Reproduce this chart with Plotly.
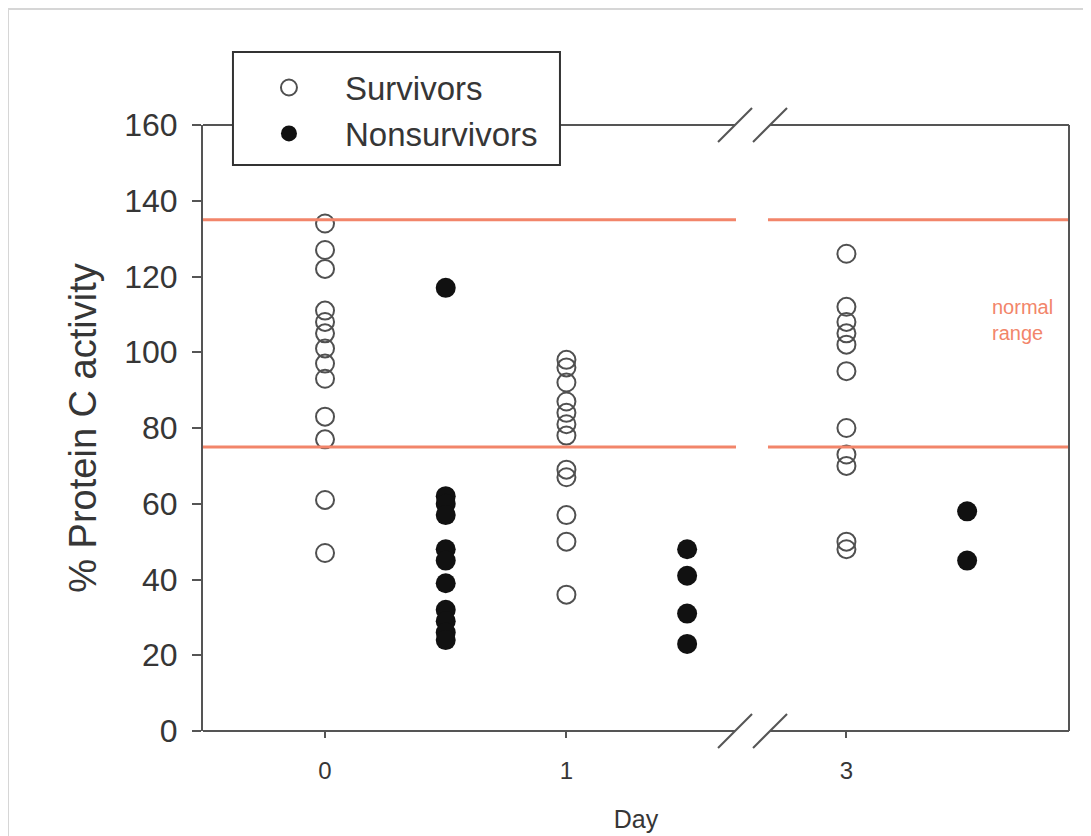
import plotly.graph_objects as go

# ---------------- data ----------------
day_labels = ["0", "1", "3"]
survivors_day0 = [134, 127, 122, 111, 108, 105, 101, 97, 93, 83, 77, 61, 47]
survivors_day1 = [98, 96, 92, 87, 84, 81, 78, 69, 67, 57, 50, 36]
survivors_day3 = [126, 112, 108, 105, 102, 95, 80, 73, 70, 50, 48]
nonsurvivors_day0 = [117, 62, 60, 57, 48, 45, 39, 32, 29, 26, 24]
nonsurvivors_day1 = [48, 41, 31, 23]
nonsurvivors_day3 = [58, 45]
normal_low = 75
normal_high = 135

# ---------------- layout helpers (axis units) ----------------
group_pos = [0.0, 2.0, 4.32]      # x position of each day's survivors column
nonsurv_offset = 1.0              # nonsurvivors drawn to the right of survivors
break_left, break_right = 3.397, 3.687
x_range = [-1.011, 6.164]
y_range = [0, 160]


def xpaper(u):
    return (u - x_range[0]) / (x_range[1] - x_range[0])


FONT = "Liberation Sans, Arial, sans-serif"
AX = "#555555"
TXT = "#363636"
ORANGE = "#f2856a"

surv = [survivors_day0, survivors_day1, survivors_day3]
nons = [nonsurvivors_day0, nonsurvivors_day1, nonsurvivors_day3]

sx, sy, nx, ny = [], [], [], []
for i, vals in enumerate(surv):
    sx += [group_pos[i]] * len(vals)
    sy += vals
for i, vals in enumerate(nons):
    nx += [group_pos[i] + nonsurv_offset] * len(vals)
    ny += vals

fig = go.Figure()
fig.add_trace(go.Scatter(
    x=sx, y=sy, mode="markers", name="Survivors",
    marker=dict(symbol="circle-open", size=18, color="#505050",
                line=dict(width=2, color="#505050")),
    cliponaxis=False,
))
fig.add_trace(go.Scatter(
    x=nx, y=ny, mode="markers", name="Nonsurvivors",
    marker=dict(symbol="circle", size=20, color="#111111"),
    cliponaxis=False,
))

bl, br = xpaper(break_left), xpaper(break_right)
shapes = []
# normal range lines (broken at the axis break)
for yv in (normal_low, normal_high):
    shapes.append(dict(type="line", xref="paper", yref="y", x0=0, x1=xpaper(3.405),
                       y0=yv, y1=yv, line=dict(color=ORANGE, width=3)))
    shapes.append(dict(type="line", xref="paper", yref="y", x0=xpaper(3.67), x1=1,
                       y0=yv, y1=yv, line=dict(color=ORANGE, width=3)))
# bottom and top axis lines with break, right axis line
for yp in (0, 1):
    shapes.append(dict(type="line", xref="paper", yref="paper", x0=0, x1=bl,
                       y0=yp, y1=yp, line=dict(color=AX, width=2)))
    shapes.append(dict(type="line", xref="paper", yref="paper", x0=br, x1=1,
                       y0=yp, y1=yp, line=dict(color=AX, width=2)))
    for bx in (bl, br):
        shapes.append(dict(type="line", xref="paper", yref="paper",
                           xsizemode="pixel", ysizemode="pixel",
                           xanchor=bx, yanchor=yp,
                           x0=-17, x1=17, y0=-17, y1=17,
                           line=dict(color=AX, width=2)))
shapes.append(dict(type="line", xref="paper", yref="paper", x0=1, x1=1,
                   y0=0, y1=1, line=dict(color=AX, width=2)))
# legend box (covers the top axis line behind it)
shapes.append(dict(type="rect", xref="paper", yref="paper",
                   x0=0.0346, x1=0.4122, y0=0.934, y1=1.1205,
                   fillcolor="white", line=dict(color="#333333", width=2),
                   layer="above"))
# light frame around the figure
shapes.append(dict(type="rect", xref="paper", yref="paper",
                   x0=-0.2252, x1=1.3, y0=-0.6, y1=1.1914,
                   line=dict(color="#d6d6d6", width=2), layer="below"))

fig.update_layout(
    width=1091, height=836,
    margin=dict(l=195, r=30, t=117, b=113),
    paper_bgcolor="white", plot_bgcolor="white",
    font=dict(family=FONT, color=TXT),
    shapes=shapes,
    showlegend=True,
    legend=dict(
        x=0.0346, y=1.108, xanchor="left", yanchor="top",
        borderwidth=0, bgcolor="rgba(0,0,0,0)",
        font=dict(size=33, color=TXT, family=FONT),
        itemwidth=102,
    ),
    annotations=[dict(
        text="normal<br>range", xref="paper", yref="y",
        x=0.909, y=108.5, xanchor="left", yanchor="middle", align="left",
        showarrow=False, font=dict(size=20, color=ORANGE, family=FONT),
    )],
)

fig.update_xaxes(
    range=x_range, showgrid=False, zeroline=False, showline=False,
    tickmode="array", tickvals=group_pos, ticktext=day_labels,
    ticks="outside", ticklen=6, tickwidth=2, tickcolor=AX,
    tickfont=dict(size=24, color=TXT), ticklabelstandoff=12,
    title=dict(text="Day", font=dict(size=25, color=TXT), standoff=27),
)
fig.update_yaxes(
    range=y_range, showgrid=False, zeroline=False,
    showline=True, linecolor=AX, linewidth=2,
    tickmode="linear", tick0=0, dtick=20,
    ticks="outside", ticklen=9, tickwidth=2, tickcolor=AX,
    tickfont=dict(size=32, color=TXT), ticklabelstandoff=8,
    title=dict(text="% Protein C activity", font=dict(size=38, color=TXT), standoff=16),
)

fig.write_html("out.html")
